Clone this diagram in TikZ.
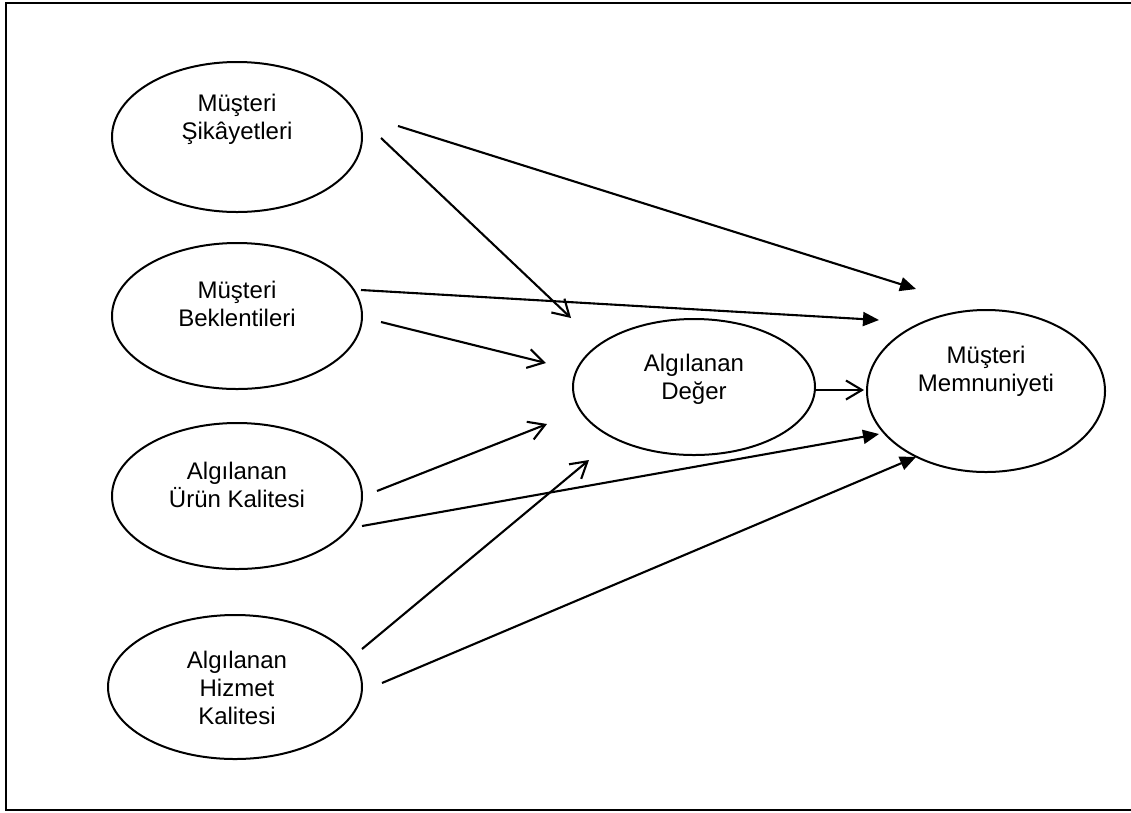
\documentclass[tikz,border=0pt]{standalone}
\usepackage{fontspec}
\setmainfont{Liberation Sans}
\usetikzlibrary{shapes.geometric,arrows.meta}
\begin{document}
\begin{tikzpicture}[x=1pt,y=-1pt,
  construct/.style={draw,ellipse,line width=2pt,inner sep=0pt},
  lbl/.style={anchor=north,inner sep=0pt,align=center,
    font=\fontsize{24}{28}\selectfont},
  toval/.style={line width=2.1pt,-{Straight Barb[length=16pt,width=19pt,line width=2.1pt]}},
  tosat/.style={line width=2.1pt,-{Triangle[length=16pt,width=14pt]}}]
\useasboundingbox (0,0) rectangle (1131,812);
% open frame around the model
\draw[line width=2.6pt] (1131,3) -- (6,3) -- (6,810) -- (1131,810);

% constructs
\node[construct,minimum width=250pt,minimum height=150pt] (sik) at (237,137) {};
\node[construct,minimum width=250pt,minimum height=146pt] (bek) at (237,316) {};
\node[construct,minimum width=250pt,minimum height=146pt] (urun) at (237,496) {};
\node[construct,minimum width=254pt,minimum height=144pt] (hiz) at (235,687) {};
\node[construct,minimum width=242pt,minimum height=136pt] (deger) at (694,387) {};
\node[construct,minimum width=238pt,minimum height=162pt] (mem) at (986,391) {};

% labels
\node[lbl] (tsik) at (237,94) {Müşteri\\Şikâyetleri};
\node[lbl] (tbek) at (237,281) {Müşteri\\Beklentileri};
\node[lbl] (turun) at (237,462) {Algılanan\\Ürün Kalitesi};
\node[lbl] (thiz) at (237,651) {Algılanan\\Hizmet\\Kalitesi};
\node[lbl] (tdeger) at (694,354) {Algılanan\\Değer};
\node[lbl] (tmem) at (986,346) {Müşteri\\Memnuniyeti};

% paths to perceived value
\draw[toval] ([shift={(144,1)}]sik.center) -- ([shift={(-123,-69)}]deger.center);
\draw[toval] ([shift={(144,6)}]bek.center) -- ([shift={(-148,-24)}]deger.center);
\draw[toval] ([shift={(140,-5)}]urun.center) -- ([shift={(-147,37)}]deger.center);
\draw[toval] ([shift={(127,-38)}]hiz.center) -- ([shift={(-105,73)}]deger.center);
\draw[toval] ([shift={(121,3)}]deger.center) -- ([shift={(-122,-1)}]mem.center);

% paths to customer satisfaction
\draw[tosat] ([shift={(161,-11)}]sik.center) -- ([shift={(-70,-102)}]mem.center);
\draw[tosat] ([shift={(124,-26)}]bek.center) -- ([shift={(-107,-71)}]mem.center);
\draw[tosat] ([shift={(125,30)}]urun.center) -- ([shift={(-107,43)}]mem.center);
\draw[tosat] ([shift={(147,-4)}]hiz.center) -- ([shift={(-70,66)}]mem.center);
\end{tikzpicture}
\end{document}
